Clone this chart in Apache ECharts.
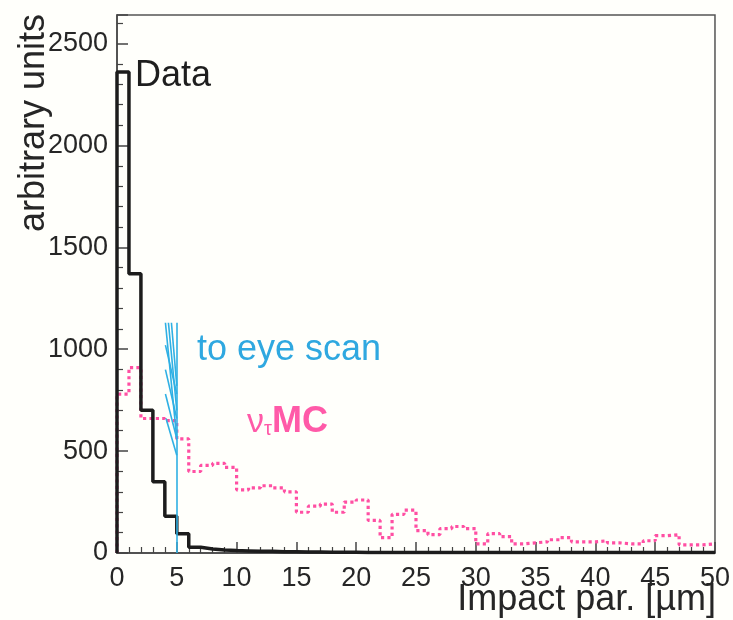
<!DOCTYPE html>
<html>
<head>
<meta charset="utf-8">
<script src="https://cdn.jsdelivr.net/npm/echarts@6/dist/echarts.min.js"></script>
<style>
html,body{margin:0;padding:0;background:#fffffb;}
#c{width:733px;height:620px;}
</style>
</head>
<body>
<div id="c"></div>
<script>
// bin width 1 µm, bins 0..49 (lower edges)
var binLow = [0,1,2,3,4,5,6,7,8,9,10,11,12,13,14,15,16,17,18,19,20,21,22,23,24,25,26,27,28,29,30,31,32,33,34,35,36,37,38,39,40,41,42,43,44,45,46,47,48,49];
var dataCounts = [2360,1370,700,350,180,95,28,20,15,12,10,8,8,6,6,5,5,4,4,4,3,3,3,3,3,3,2,2,2,2,2,2,2,2,2,2,2,2,2,2,2,2,2,2,2,2,2,2,2,2];
var mcCounts = [780,910,660,660,650,560,400,430,440,420,310,320,330,320,300,200,230,240,200,250,260,160,75,190,210,110,90,120,130,120,45,95,80,45,50,55,65,75,55,55,60,50,45,45,60,85,90,40,40,45];
var xTicks = [0,5,10,15,20,25,30,35,40,45,50];
var yTicks = [0,500,1000,1500,2000,2500];
// "to eye scan" marker segments [x1,y1,x2,y2]
var scanSegments = [
  [5,0,5,1130],
  [4.05,1130,5,560],
  [4.3,1130,5,700],
  [4.55,1130,5,820],
  [4.05,1020,5,780],
  [4.05,900,5,660],
  [4.05,780,5,560],
  [4.1,660,5,480]
];

function histPoints(counts){
  var pts=[[binLow[0],0]];
  for(var i=0;i<counts.length;i++) pts.push([binLow[i],counts[i]]);
  pts.push([binLow[binLow.length-1]+1,counts[counts.length-1]]);
  return pts;
}

var FONT = "'Liberation Sans', Arial, Helvetica, sans-serif";
var chart = echarts.init(document.getElementById('c'));
chart.setOption({
  backgroundColor:'#fffffb',
  animation:false,
  grid:{left:117,right:17,top:15,bottom:67,show:true,borderColor:'#555',borderWidth:1.5,backgroundColor:'transparent'},
  xAxis:{
    type:'value',min:xTicks[0],max:xTicks[xTicks.length-1],interval:5,
    axisLine:{lineStyle:{color:'#444',width:1.5}},
    axisTick:{inside:true,length:11,lineStyle:{color:'#444',width:1.5}},
    minorTick:{show:true,splitNumber:5,length:6,lineStyle:{color:'#444',width:1.2}},
    splitLine:{show:false},
    axisLabel:{color:'#262626',fontSize:27,fontFamily:FONT,margin:12,
      formatter:function(v){return xTicks.indexOf(v)>=0?String(v):'';}}
  },
  yAxis:{
    type:'value',min:yTicks[0],max:2640,interval:500,
    axisLine:{lineStyle:{color:'#444',width:1.5}},
    axisTick:{inside:true,length:11,lineStyle:{color:'#444',width:1.5}},
    minorTick:{show:true,splitNumber:5,length:6,lineStyle:{color:'#444',width:1.2}},
    splitLine:{show:false},
    axisLabel:{color:'#262626',fontSize:27,fontFamily:FONT,margin:9,showMaxLabel:false,
      formatter:function(v){return yTicks.indexOf(v)>=0?String(v):'';}}
  },
  series:[
    {type:'line',step:'end',data:histPoints(mcCounts),symbol:'none',z:2,
     lineStyle:{color:'#ff4fa3',width:3.2,type:'dotted'}},
    {type:'line',step:'end',data:histPoints(dataCounts),symbol:'none',z:3,
     lineStyle:{color:'#1c1c1c',width:3.5}},
    {type:'lines',coordinateSystem:'cartesian2d',z:4,
     data:scanSegments.map(function(s){return {coords:[[s[0],s[1]],[s[2],s[3]]]};}),
     lineStyle:{color:'#2fb0e4',width:1.6,opacity:1}}
  ],
  graphic:[
    {type:'text',left:135,top:58,z:10,style:{text:'Data',fill:'#1e1e1e',font:'36px '+FONT}},
    {type:'text',left:197,top:332,z:10,style:{text:'to eye scan',fill:'#2fa8e0',font:'36px '+FONT}},
    {type:'text',left:247,top:404,z:10,style:{
      text:'{n|ν}{s|τ}{m|MC}',
      rich:{
        n:{fontSize:34,fontFamily:FONT,fill:'#ff5aa8',verticalAlign:'bottom'},
        s:{fontSize:20,fontFamily:FONT,fill:'#ff5aa8',padding:[14,0,0,0]},
        m:{fontSize:36,fontFamily:FONT,fill:'#ff5aa8',fontWeight:'bold'}
      }}},
    {type:'text',x:716,y:582,z:10,style:{text:'Impact par. [µm]',fill:'#262626',font:'36px '+FONT,align:'right',verticalAlign:'top'}},
    {type:'text',x:16,y:14,rotation:Math.PI/2,z:10,style:{text:'arbitrary units',fill:'#262626',font:'36px '+FONT,align:'right',verticalAlign:'top'}}
  ]
});
</script>
</body>
</html>
